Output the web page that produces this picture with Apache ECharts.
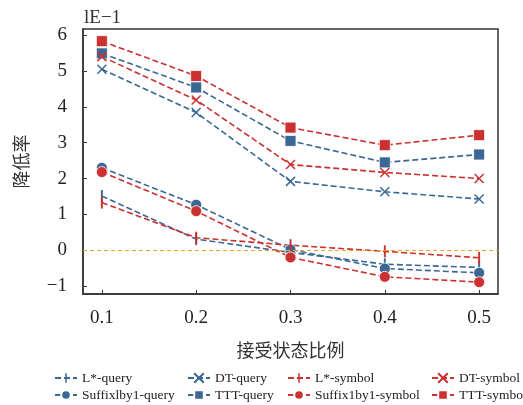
<!DOCTYPE html>
<html>
<head>
<meta charset="utf-8">
<script src="https://cdn.jsdelivr.net/npm/echarts@6/dist/echarts.min.js"></script>
<style>
  html, body { margin: 0; padding: 0; background: #fff; }
  #main { width: 523px; height: 405px; }
</style>
</head>
<body>
<div id="main"></div>
<script>
// x: 接受状态比例, y: 降低率 (unit 1E-1)
const ratios = [0.1, 0.2, 0.3, 0.4, 0.5];
const yTicks = [-1, 0, 1, 2, 3, 4, 5, 6];

const lStarQuery = [1.51, 0.31, -0.06, -0.39, -0.48];
const suffixQuery = [2.30, 1.27, 0.02, -0.51, -0.63];
const dtQuery = [5.05, 3.84, 1.92, 1.63, 1.43];
const tttQuery = [5.49, 4.54, 3.05, 2.45, 2.67];
const lStarSymbol = [1.33, 0.35, 0.14, -0.03, -0.21];
const suffixSymbol = [2.18, 1.09, -0.20, -0.74, -0.89];
const dtSymbol = [5.40, 4.19, 2.39, 2.17, 2.00];
const tttSymbol = [5.83, 4.86, 3.42, 2.93, 3.21];

const blue = '#3b6794';
const red = '#cc3030';
const serif = '"Liberation Serif", "DejaVu Serif", serif';
const cjk = '"Noto Sans CJK SC", sans-serif';

// square boxes so the legend icon keeps the same shape
const markers = {
    bar: 'path://M0,0M10,10M4.2,0L5.8,0L5.8,10L4.2,10Z',
    cross: 'path://M0,0L10,10M10,0L0,10',
    circle: 'circle',
    rect: 'rect'
};

function makeSeries(name, values, color, kind) {
    const s = {
        name: name,
        type: 'line',
        data: ratios.map((x, i) => [x, values[i]]),
        symbol: markers[kind],
        lineStyle: { color: color, width: 1.6, type: [6, 3] },
        z: 3
    };
    if (kind === 'bar') {
        s.symbolSize = 12;
        s.itemStyle = { color: color, borderWidth: 0 };
    } else if (kind === 'cross') {
        s.symbolSize = 9;
        s.itemStyle = { color: color, borderColor: color, borderWidth: 1.5 };
    } else {
        s.symbolSize = 11;
        s.itemStyle = { color: color, borderColor: '#fff', borderWidth: 0.8 };
    }
    return s;
}

const series = [
    makeSeries('L*-query', lStarQuery, blue, 'bar'),
    makeSeries('Suffixlby1-query', suffixQuery, blue, 'circle'),
    makeSeries('DT-query', dtQuery, blue, 'cross'),
    makeSeries('TTT-query', tttQuery, blue, 'rect'),
    makeSeries('L*-symbol', lStarSymbol, red, 'bar'),
    makeSeries('Suffix1by1-symbol', suffixSymbol, red, 'circle'),
    makeSeries('DT-symbol', dtSymbol, red, 'cross'),
    makeSeries('TTT-symbol', tttSymbol, red, 'rect')
];

// zero reference line
series[0].markLine = {
    silent: true,
    symbol: 'none',
    label: { show: false },
    lineStyle: { color: '#eaa52f', type: [4, 3], width: 1 },
    data: [{ yAxis: 0 }]
};

function legendCol(left, names) {
    return {
        data: names,
        orient: 'vertical',
        left: left,
        top: 371,
        itemWidth: 22,
        itemHeight: 12,
        itemGap: 3,
        padding: 0,
        textStyle: { fontFamily: serif, fontSize: 13.5, color: '#222' }
    };
}

const myChart = echarts.init(document.getElementById('main'), null, { renderer: 'canvas' });

const option = {
    animation: false,
    title: {
        text: 'lE\u22121',
        left: 79,
        top: 4,
        textStyle: { fontFamily: serif, fontSize: 19, fontWeight: 'normal', color: '#333' }
    },
    grid: {
        left: 83, right: 25, top: 29, bottom: 111,
        show: true,
        borderColor: '#333',
        borderWidth: 1.5
    },
    xAxis: {
        type: 'value',
        min: 0.08,
        max: 0.52,
        name: '接受状态比例',
        nameLocation: 'middle',
        nameGap: 47,
        nameTextStyle: { fontFamily: cjk, fontSize: 18, color: '#333' },
        axisLine: { show: true, onZero: false, lineStyle: { color: '#333', width: 1.5 } },
        axisTick: { show: true, inside: true, length: 4, customValues: ratios, lineStyle: { color: '#333' } },
        axisLabel: {
            customValues: ratios,
            margin: 15,
            fontFamily: serif,
            fontSize: 19,
            color: '#222',
            formatter: v => v.toFixed(1)
        },
        splitLine: { show: false }
    },
    yAxis: {
        type: 'value',
        min: -1.22,
        max: 6.17,
        name: '降低率',
        nameLocation: 'middle',
        nameRotate: 90,
        nameGap: 53,
        nameTextStyle: { fontFamily: cjk, fontSize: 18, color: '#333' },
        axisLine: { show: true, onZero: false, lineStyle: { color: '#333', width: 1.5 } },
        axisTick: { show: true, inside: true, length: 4, customValues: yTicks, lineStyle: { color: '#333' } },
        axisLabel: {
            customValues: yTicks,
            margin: 16,
            fontFamily: serif,
            fontSize: 19,
            color: '#222',
            formatter: v => (v < 0 ? '\u2212' + Math.abs(v) : String(v))
        },
        splitLine: { show: false }
    },
    legend: [
        legendCol(54, ['L*-query', 'Suffixlby1-query']),
        legendCol(187, ['DT-query', 'TTT-query']),
        legendCol(287, ['L*-symbol', 'Suffix1by1-symbol']),
        legendCol(431, ['DT-symbol', 'TTT-symbol'])
    ],
    series: series
};

myChart.setOption(option);
</script>
</body>
</html>
